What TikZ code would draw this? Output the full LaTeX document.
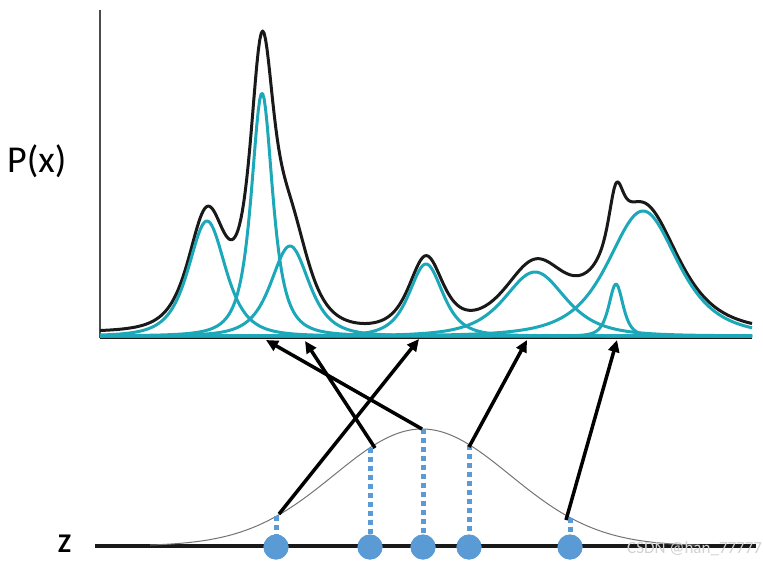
\documentclass[tikz,border=0pt]{standalone}
\usepackage{fontspec}
\setmainfont{Carlito}
\usetikzlibrary{arrows.meta}
\definecolor{peakcyan}{RGB}{28,168,184}
\definecolor{dotblue}{RGB}{91,155,213}
\definecolor{sumblack}{RGB}{25,25,25}
\begin{document}
\begin{tikzpicture}[x=1pt,y=-1pt,
  declare function={
    pq(\x,\c,\h,\w)=\h/(1+((\x-\c)/\w)*((\x-\c)/\w))/(1+((\x-\c)/\w)*((\x-\c)/\w));
    pt(\x,\c,\h,\w)=\h/(1+((\x-\c)/\w)*((\x-\c)/\w))/sqrt(1+((\x-\c)/\w)*((\x-\c)/\w));
    fA(\x)=pq(\x,207,115,34);
    fB(\x)=pt(\x,262,243,16.5);
    fBb(\x)=pt(\x,262,258,18.5);
    fC(\x)=pq(\x,290,90,35);
    fD(\x)=pq(\x,426,72,31);
    fE(\x)=pq(\x,535,64,56);
    fF(\x)=pq(\x,616,52,13);
    fG(\x)=pq(\x,643,125,64);
    rest(\x)=fA(\x)+fC(\x)+fD(\x)+fE(\x)+fF(\x)+fG(\x);
    gz(\x)=546-117*exp(-0.5*((\x-422)/88)*((\x-422)/88));
  },
  peak/.style={draw=peakcyan,line width=3pt,line join=round},
  sumline/.style={draw=sumblack,line width=3pt,line join=round},
  axisline/.style={draw=sumblack,line width=2pt},
  yaxis/.style={draw=black!70,line width=1.3pt},
  prior/.style={draw=black!55,line width=1pt},
  dotline/.style={draw=dotblue,line width=5pt,dash pattern=on 5pt off 4pt},
  zdot/.style={circle,fill=dotblue,minimum size=25pt,inner sep=0pt},
  arr/.style={draw=black,line width=3.5pt,-{Triangle[length=12pt,width=11pt]}},
  lbl/.style={inner sep=0pt,anchor=base west}
]
\useasboundingbox (0,0) rectangle (763,560);

% axes
\coordinate (ytop) at (100,10);
\coordinate (orig) at (100,338);
\coordinate (xend) at (752,338);
\draw[yaxis] (ytop) -- (orig);
\draw[axisline] (orig) -- (xend);

% mixture density (sum)
\draw[sumline] plot[domain=100:752,samples=450] (\x,{332-fBb(\x)-rest(\x)});

% components
\foreach \f in {fA,fB,fC,fD,fE,fF,fG}{
  \draw[peak] plot[domain=100:752,samples=450] (\x,{336-\f(\x)});
}

% labels
\node[lbl,font=\fontsize{38}{40}\selectfont] (px) at (7,172) {P(x)};
\node[lbl,font=\bfseries\fontsize{27}{29}\selectfont] (zl) at (58,552) {Z};

% latent axis and prior
\coordinate (zstart) at (95,546);
\coordinate (zend) at (756,546);
\draw[sumblack,line width=4pt] (zstart) -- (zend);
\draw[prior] plot[domain=150:700,samples=200] (\x,{gz(\x)});

% dotted drop lines
\coordinate (p1) at (276,{gz(276)});
\coordinate (p2) at (370,{gz(370)});
\coordinate (p3) at (423,{gz(423)});
\coordinate (p4) at (469,{gz(469)});
\coordinate (p5) at (570,{gz(570)});
\node[zdot] (c1) at (276,547) {};
\node[zdot] (c2) at (370,547) {};
\node[zdot] (c3) at (423,547) {};
\node[zdot] (c4) at (469,547) {};
\node[zdot] (c5) at (570,547) {};
\foreach \i in {1,...,5}{
  \draw[dotline] (p\i) -- (c\i.center);
}
\foreach \i in {1,...,5}{
  \node[zdot] at (c\i) {};
}

% arrows
\coordinate (a1) at (279,514);
\coordinate (a2) at (375,448);
\coordinate (a3) at (422,429);
\coordinate (a4) at (469,447);
\coordinate (a5) at (566,520);
\coordinate (t1) at (419,339);
\coordinate (t2) at (305,341);
\coordinate (t3) at (266,340);
\coordinate (t4) at (527,340);
\coordinate (t5) at (617,340);
\foreach \i in {1,...,5}{
  \draw[arr] (a\i) -- (t\i);
}

% watermark
\node[lbl,font=\fontsize{17}{18}\selectfont,text=white!82!black] (wm) at (627,553) {CSDN @han\_77777};
\end{tikzpicture}
\end{document}
